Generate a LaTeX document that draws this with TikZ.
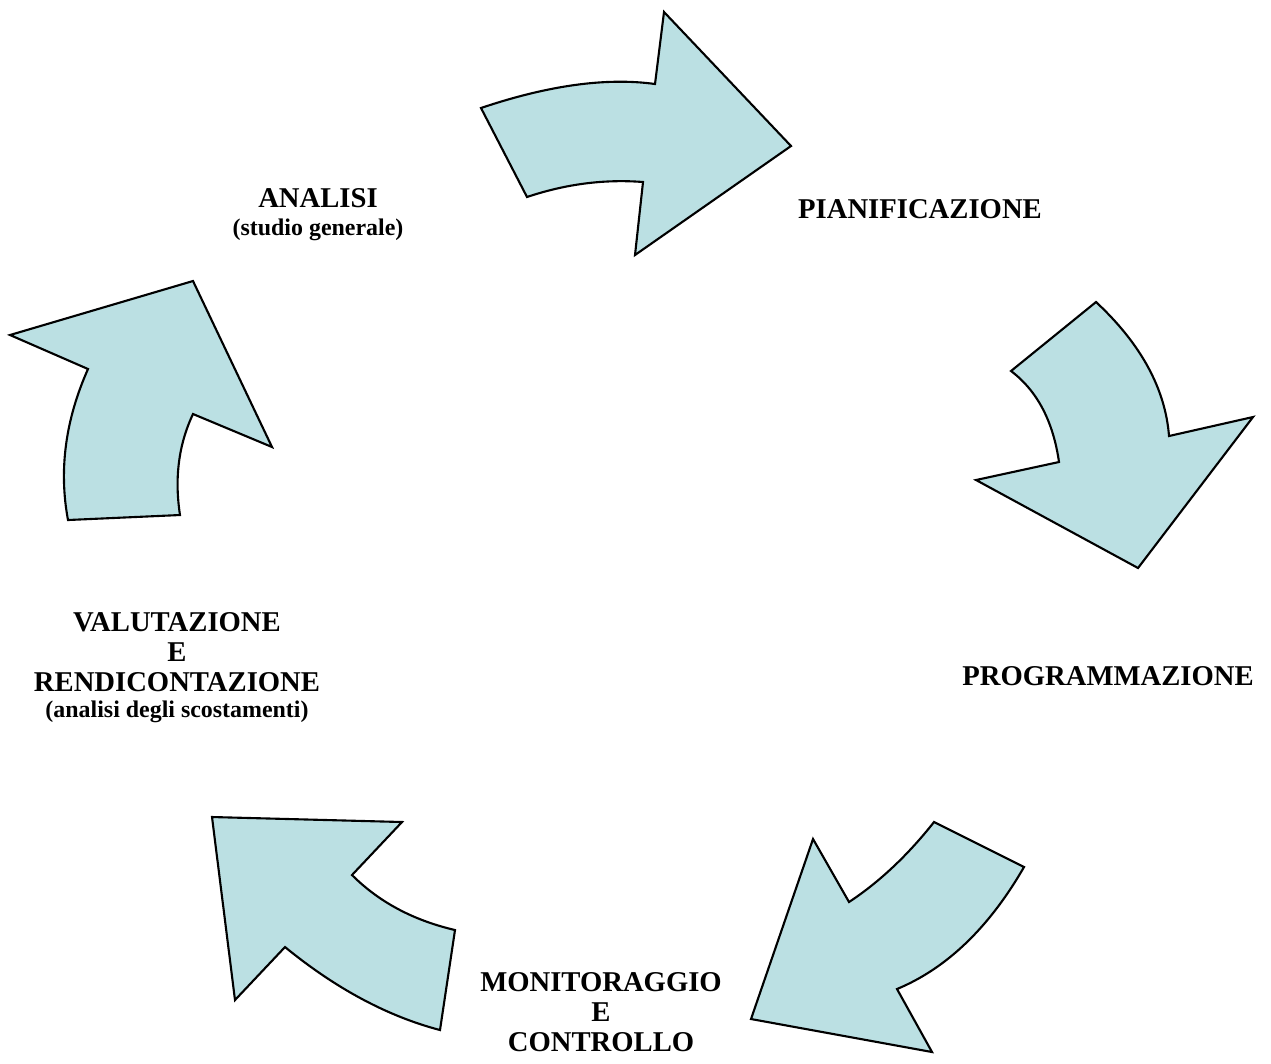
\documentclass[tikz,border=0pt]{standalone}
\usepackage{fontspec}
\setmainfont{Liberation Serif}
\definecolor{ciclo}{RGB}{187,224,227}

\begin{document}
\begin{tikzpicture}
[x=0.01cm,y=-0.01cm
,freccia/.style={draw=black,fill=ciclo,line width=0.6pt,line join=miter}
,fase/.style={inner sep=0pt,align=center,font=\fontsize{8.15}{8.5}\selectfont\bfseries}
,nota/.style={inner sep=0pt,anchor=base,font=\fontsize{6.8}{7.2}\selectfont\bfseries}
]
\useasboundingbox (0,0) rectangle (1271,1063);

% fasi del ciclo
\node[fase,anchor=base] (analisi) at (318,207) {ANALISI};
\node[nota] (analisinota) at (318,235) {(studio generale)};
\node[fase,anchor=base] (pianif) at (920,218) {PIANIFICAZIONE};
\node[fase,anchor=base] (progr) at (1108,685) {PROGRAMMAZIONE};
\node[fase] (monit) at (601,1012) {MONITORAGGIO\\E\\CONTROLLO};
\node[fase] (valut) at (177,652) {VALUTAZIONE\\E\\RENDICONTAZIONE};
\node[nota] (valutnota) at (177,717) {(analisi degli scostamenti)};

% frecce
\draw[freccia] (481,108) .. controls (548.3,85.3) and (606.3,77.3) .. (655,84) -- (664,12) -- (791,146)
  -- (635,255) -- (643,182) .. controls (604.3,179) and (565.7,184) .. (527,197) -- cycle;
\draw[freccia] (1096,302) .. controls (1141,344) and (1165.3,388.7) .. (1169,436) -- (1253,417) -- (1138,568)
  -- (976,480) -- (1059,462) .. controls (1053,420.7) and (1037,390.7) .. (1011,371) -- cycle;
\draw[freccia] (849,902) .. controls (879.3,882) and (907.7,855.3) .. (934,822) -- (1024,867)
  .. controls (989,927.7) and (946.7,968.3) .. (897,989) -- (932,1052) -- (751,1019) -- (813,839) -- cycle;
\draw[freccia] (212,817) -- (402,822) -- (352,875) .. controls (379,902) and (413.3,920.3) .. (455,930)
  -- (440,1030) .. controls (387.7,1016.3) and (336,988.7) .. (285,947) -- (235,1000) -- cycle;
\draw[freccia] (68,520) .. controls (58.7,470.3) and (65.3,420) .. (88,369) -- (10,335) -- (193,281)
  -- (272,447) -- (193,414) .. controls (178.7,444.3) and (174.3,478) .. (180,515) -- cycle;
\end{tikzpicture}
\end{document}
